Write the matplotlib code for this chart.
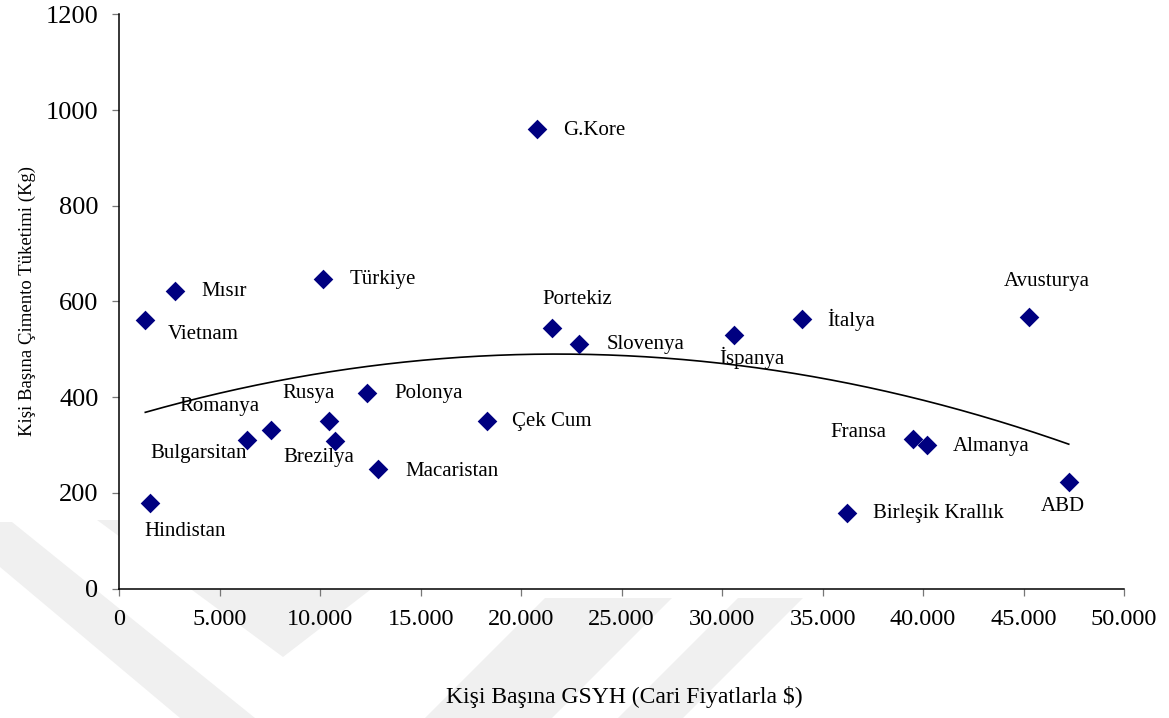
import matplotlib
matplotlib.use('Agg')

import numpy as np
import matplotlib.pyplot as plt
from matplotlib.patches import Polygon
from matplotlib.ticker import FuncFormatter

plt.rcParams['font.family'] = ['Liberation Serif', 'DejaVu Serif']

countries = ['Vietnam', 'Mısır', 'Türkiye', 'G.Kore', 'Portekiz', 'Slovenya',
             'İspanya', 'İtalya', 'Avusturya', 'Hindistan', 'Romanya',
             'Bulgarsitan', 'Rusya', 'Brezilya', 'Polonya', 'Macaristan',
             'Çek Cum', 'Fransa', 'Almanya', 'Birleşik Krallık', 'ABD']
gdp = [1294, 2786, 10150, 20800, 21540, 22890,
       30600, 33960, 45260, 1540, 7560,
       6370, 10450, 10750, 12340, 12890,
       18310, 39490, 40210, 36200, 47250]
cement = [561, 621, 647, 960, 545, 512,
          531, 564, 567, 178, 331,
          311, 351, 309, 408, 250,
          350, 313, 300, 158, 223]

x_ticks = [0, 5000, 10000, 15000, 20000, 25000, 30000, 35000, 40000, 45000, 50000]
y_ticks = [0, 200, 400, 600, 800, 1000, 1200]

# label placement: offset in pixels from the marker, horizontal alignment
label_pos = {
    'Vietnam': (22, -14, 'left'), 'Mısır': (26, 0, 'left'),
    'Türkiye': (26, 0, 'left'), 'G.Kore': (26, -1, 'left'),
    'Portekiz': (25, 28, 'center'), 'Slovenya': (27, -1, 'left'),
    'İspanya': (18, -23, 'center'), 'İtalya': (26, -1, 'left'),
    'Avusturya': (18, 36, 'center'), 'Hindistan': (35, -28, 'center'),
    'Romanya': (-52, 24, 'center'), 'Bulgarsitan': (-49, -14, 'center'),
    'Rusya': (-21, 27, 'center'), 'Brezilya': (-16, -17, 'center'),
    'Polonya': (27, 0, 'left'), 'Macaristan': (27, -3, 'left'),
    'Çek Cum': (25, 0, 'left'), 'Fransa': (-26, 6, 'right'),
    'Almanya': (26, -2, 'left'), 'Birleşik Krallık': (26, -1, 'left'),
    'ABD': (-6, -25, 'center'),
}

W, H = 1169, 718
fig = plt.figure(figsize=(W / 100, H / 100), dpi=100)

# faint background logo, only visible outside the white plot area
bands = [
    [(0, 522), (12, 522), (255, 718), (180, 718), (0, 567)],
    [(97, 520), (283, 657), (461, 520)],
    [(545, 598), (672, 598), (552, 718), (425, 718)],
    [(738, 598), (803, 598), (683, 718), (618, 718)],
]
for b in bands:
    pts = [(px / W, 1 - py / H) for px, py in b]
    fig.patches.append(Polygon(pts, closed=True, transform=fig.transFigure,
                               facecolor='#f0f0f0', edgecolor='none', zorder=-5))

ax = fig.add_axes([119.3 / W, 1 - 588.5 / H, (1124 - 119.3) / W, (588.5 - 14.5) / H])
ax.set_facecolor('white')
ax.set_zorder(1)

x = np.array(gdp, dtype=float)
y = np.array(cement, dtype=float)

# second order trend line
coef = np.polyfit(x, y, 2)
xs = np.linspace(x.min(), x.max(), 300)
ax.plot(xs, np.polyval(coef, xs), color='black', lw=1.2, zorder=2)

ax.scatter(x, y, marker='D', s=100, color='#000080', linewidths=0, zorder=3)

for name, gx, cy in zip(countries, gdp, cement):
    dx, dy, ha = label_pos[name]
    ax.annotate(name, (gx, cy), xytext=(dx, dy), textcoords='offset pixels',
                ha=ha, va='center', fontsize=15, color='black', zorder=4)

ax.set_xlim(0, 50000)
ax.set_ylim(0, 1200)
ax.set_xticks(x_ticks)
ax.set_yticks(y_ticks)
ax.xaxis.set_major_formatter(FuncFormatter(lambda v, p: f'{v:,.0f}'.replace(',', '.')))

for s in ('top', 'right'):
    ax.spines[s].set_visible(False)
for s in ('left', 'bottom'):
    ax.spines[s].set_linewidth(1.1)
    ax.spines[s].set_color('black')

ax.tick_params(axis='both', direction='out', length=5, width=0.9, color='#777777')
ax.tick_params(axis='y', labelsize=19, pad=10)
ax.tick_params(axis='x', labelsize=17.5, pad=9.5)

ax.set_xlabel('Kişi Başına GSYH (Cari Fiyatlarla $)', fontsize=17)
ax.xaxis.set_label_coords(0.503, -0.17)
ax.set_ylabel('Kişi Başına Çimento Tüketimi (Kg)', fontsize=13.5)
ax.yaxis.set_label_coords(-0.083, 0.5)

fig.savefig('out.png', dpi=100)
